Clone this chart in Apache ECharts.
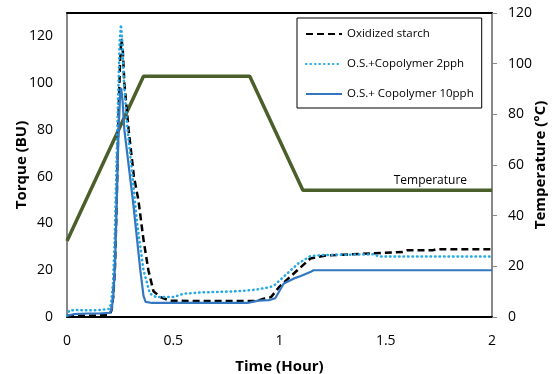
<!DOCTYPE html>
<html>
<head>
<meta charset="utf-8">
<script src="https://cdn.jsdelivr.net/npm/echarts@6/dist/echarts.min.js"></script>
<style>
  html, body { margin: 0; padding: 0; background: #fff; }
  #main { width: 555px; height: 374px; }
</style>
</head>
<body>
<div id="main"></div>
<script>
// time (hour) and torque (BU)
var osTime = [0, 0.05, 0.1, 0.15, 0.2, 0.21, 0.218, 0.226, 0.234, 0.242, 0.25, 0.256, 0.262, 0.27, 0.29, 0.315, 0.336, 0.36, 0.383, 0.407, 0.44, 0.485, 0.6, 0.75, 0.89, 0.93, 0.96, 1.0, 1.066, 1.145, 1.223, 1.3, 1.43, 1.58, 1.6, 1.72, 1.74, 2.0];
var osTorque = [0.5, 0.5, 0.5, 0.7, 1, 3, 9, 22, 50, 85, 110, 119, 115, 100, 80, 60, 50, 33, 20, 11, 8.5, 7, 6.8, 6.8, 6.8, 7.9, 8.5, 13, 18.5, 25, 26.4, 26.6, 27.2, 27.8, 28.5, 28.5, 29, 29];

var cp2Time = [0, 0.01, 0.05, 0.1, 0.15, 0.2, 0.208, 0.216, 0.224, 0.232, 0.24, 0.248, 0.254, 0.26, 0.268, 0.285, 0.305, 0.33, 0.36, 0.39, 0.42, 0.5, 0.55, 0.63, 0.8, 0.89, 0.956, 0.975, 1.035, 1.09, 1.145, 1.2, 1.44, 1.47, 2.0];
var cp2Torque = [0.5, 2.8, 3, 2.8, 3, 3.5, 6, 14, 32, 62, 92, 118, 125, 118, 100, 80, 63, 40, 20, 10, 8.5, 8.5, 10, 10.5, 11, 11.7, 12.8, 13.5, 18.5, 23, 26, 26.5, 26.8, 25.9, 25.9];

var cp10Time = [0, 0.03, 0.1, 0.15, 0.2, 0.21, 0.218, 0.226, 0.234, 0.242, 0.25, 0.255, 0.262, 0.27, 0.29, 0.31, 0.33, 0.345, 0.36, 0.37, 0.4, 0.6, 0.85, 0.9, 0.95, 0.98, 1.02, 1.066, 1.1, 1.145, 1.16, 2.0];
var cp10Torque = [0.5, 1.2, 1.5, 1.5, 1.8, 3, 9, 22, 48, 78, 95, 98, 92, 80, 65, 50, 33, 20, 9, 6.5, 6, 6, 6, 7, 7.2, 8, 14.3, 16.4, 17.5, 19.2, 20, 20];

var tempTime = [0, 0.36, 0.86, 1.11, 2];
var tempValue = [30, 95, 95, 50, 50];

var xTicks = [0, 0.5, 1, 1.5, 2];

function pairs(xs, ys) {
  return xs.map(function (x, i) { return [x, ys[i]]; });
}

var font = '"Open Sans", "Liberation Sans", sans-serif';
var chart = echarts.init(document.getElementById('main'));

chart.setOption({
  animation: false,
  grid: { left: 67, right: 63, top: 13, bottom: 57, outerBoundsMode: 'none' },
  legend: {
    orient: 'vertical',
    left: 297,
    top: 18,
    padding: [10, 8, 8, 8],
    itemGap: 18,
    itemWidth: 36,
    itemHeight: 14,
    backgroundColor: '#fff',
    borderColor: '#000',
    borderWidth: 1,
    borderRadius: 0,
    itemStyle: { opacity: 0 },
    data: ['Oxidized starch', 'O.S.+Copolymer 2pph', 'O.S.+ Copolymer 10pph'],
    textStyle: { fontFamily: font, fontSize: 11.5, color: '#000' }
  },
  xAxis: [{
    type: 'value',
    min: xTicks[0],
    max: xTicks[xTicks.length - 1],
    interval: 0.5,
    name: 'Time (Hour)',
    nameLocation: 'middle',
    nameMoveOverlap: false,
    nameGap: 42,
    nameTextStyle: { fontFamily: font, fontSize: 15, fontWeight: 'bold', color: '#000' },
    axisLine: { onZero: false, lineStyle: { color: '#000', width: 2 } },
    axisTick: { show: false },
    splitLine: { show: false },
    axisLabel: { fontFamily: font, fontSize: 14, color: '#000', margin: 17 }
  }, {
    type: 'value',
    position: 'top',
    min: 0,
    max: 2,
    axisLine: { show: true, onZero: false, lineStyle: { color: '#000', width: 2 } },
    axisTick: { show: false },
    axisLabel: { show: false },
    splitLine: { show: false }
  }],
  yAxis: [{
    type: 'value',
    min: 0,
    max: 130,
    interval: 20,
    name: 'Torque (BU)',
    nameLocation: 'middle',
    nameMoveOverlap: false,
    nameGap: 38,
    nameTextStyle: { fontFamily: font, fontSize: 15, fontWeight: 'bold', color: '#000' },
    axisLine: { show: true, onZero: false, lineStyle: { color: '#888', width: 2 } },
    axisTick: { show: false },
    splitLine: { show: false },
    axisLabel: { fontFamily: font, fontSize: 14, color: '#000', margin: 14, showMaxLabel: false }
  }, {
    type: 'value',
    position: 'right',
    min: 0,
    max: 120,
    interval: 20,
    name: 'Temperature (°C)',
    nameLocation: 'middle',
    nameMoveOverlap: false,
    nameGap: 41,
    nameRotate: 90,
    nameTextStyle: { fontFamily: font, fontSize: 15, fontWeight: 'bold', color: '#000' },
    axisLine: { show: true, onZero: false, lineStyle: { color: '#888', width: 2 } },
    axisTick: { show: true, length: 5, lineStyle: { color: '#888' } },
    splitLine: { show: false },
    axisLabel: { fontFamily: font, fontSize: 14, color: '#000', margin: 16 }
  }],
  series: [{
    name: 'Temperature',
    type: 'line',
    yAxisIndex: 1,
    symbol: 'none',
    data: pairs(tempTime, tempValue),
    lineStyle: { color: '#4a5f2a', width: 3.5 },
    markPoint: {
      symbol: 'rect',
      symbolSize: 1,
      itemStyle: { color: 'rgba(0,0,0,0)' },
      data: [{ coord: [1.71, 50] }],
      label: {
        show: true,
        position: 'top',
        distance: 3,
        formatter: 'Temperature',
        fontFamily: font,
        fontSize: 12,
        color: '#000'
      }
    }
  }, {
    name: 'Oxidized starch',
    type: 'line',
    symbol: 'none',
    data: pairs(osTime, osTorque),
    color: '#000',
    lineStyle: { color: '#000', width: 2.5, type: [7, 4] }
  }, {
    name: 'O.S.+Copolymer 2pph',
    type: 'line',
    symbol: 'none',
    data: pairs(cp2Time, cp2Torque),
    color: '#22a8e6',
    lineStyle: { color: '#22a8e6', width: 2.5, type: [0.5, 4], cap: 'round' }
  }, {
    name: 'O.S.+ Copolymer 10pph',
    type: 'line',
    symbol: 'none',
    data: pairs(cp10Time, cp10Torque),
    color: '#3277c0',
    lineStyle: { color: '#3277c0', width: 2.2 }
  }]
});
</script>
</body>
</html>
